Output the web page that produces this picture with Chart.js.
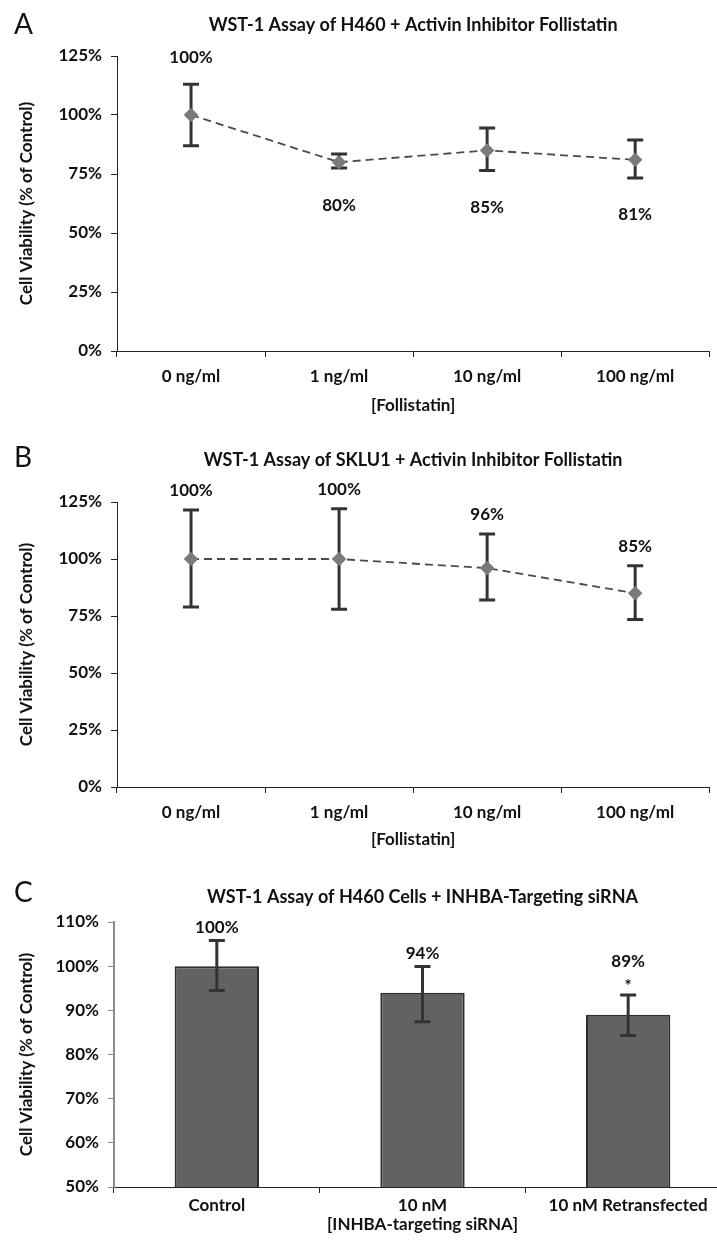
<!DOCTYPE html>
<html>
<head>
<meta charset="utf-8">
<script src="https://cdn.jsdelivr.net/npm/chart.js@4.4.1/dist/chart.umd.min.js"></script>
<style>
  html, body { margin: 0; padding: 0; background: #fff; }
  body { width: 717px; height: 1243px; position: relative; overflow: hidden; }
  .panel { position: absolute; left: 0; width: 717px; }
  .letter { position: absolute; left: 14px; font: 28px Lato, sans-serif; color: #111; line-height: 1; }
</style>
</head>
<body>
<div class="panel" style="top:0;height:420px"><canvas id="chartA"></canvas></div>
<div class="panel" style="top:420px;height:435px"><canvas id="chartB"></canvas></div>
<div class="panel" style="top:855px;height:388px;width:740px"><canvas id="chartC"></canvas></div>
<div class="letter" style="top:9px">A</div>
<div class="letter" style="top:442px">B</div>
<div class="letter" style="top:877px">C</div>
<script>
// Panel A / B: follistatin dose series
const doseLabels = ['0 ng/ml', '1 ng/ml', '10 ng/ml', '100 ng/ml'];
const h460Mean = [100, 80, 85, 81];
const h460Low = [87, 77.5, 76.5, 73.3];
const h460High = [113, 83.5, 94.5, 89.4];
const sklu1Mean = [100, 100, 96, 85];
const sklu1Low = [79, 78, 82, 73.5];
const sklu1High = [121.5, 122, 111, 97];

// Panel C: siRNA bars
const sirnaLabels = ['Control', '10 nM', '10 nM Retransfected'];
const sirnaMean = [100, 94, 89];
const sirnaLow = [94.5, 87.4, 84.3];
const sirnaHigh = [105.8, 99.9, 93.5];
const sirnaMarks = ['', '', '*'];

// Tick values
const pctTicksAB = [0, 25, 50, 75, 100, 125];
const pctTicksC = [50, 60, 70, 80, 90, 100, 110];

const FONT = 'Lato, "Open Sans", sans-serif';
const boldFont = { family: FONT, size: 17, weight: 'bold' };
const headFont = { family: FONT, size: 18, weight: 'bold' };
const INK = '#111';

// Error bars drawn through the chart's own scales
function drawErrorBars(chart, low, high) {
    const ctx = chart.ctx;
    const xs = chart.scales.x, ys = chart.scales.y;
    ctx.save();
    ctx.strokeStyle = '#333';
    ctx.lineWidth = 3;
    low.forEach((lo, i) => {
        const px = xs.getPixelForValue(i);
        const top = ys.getPixelForValue(high[i]);
        const bot = ys.getPixelForValue(lo);
        ctx.beginPath();
        ctx.moveTo(px, top); ctx.lineTo(px, bot);
        ctx.moveTo(px - 8, top); ctx.lineTo(px + 8, top);
        ctx.moveTo(px - 8, bot); ctx.lineTo(px + 8, bot);
        ctx.stroke();
    });
    ctx.restore();
}

// Value labels above or below the error bars
function drawValueLabels(chart, mean, low, high, place, gaps, marks) {
    const ctx = chart.ctx;
    const xs = chart.scales.x, ys = chart.scales.y;
    ctx.save();
    ctx.font = 'bold 17px ' + FONT;
    ctx.fillStyle = INK;
    ctx.textAlign = 'center';
    ctx.textBaseline = 'middle';
    mean.forEach((v, i) => {
        const px = xs.getPixelForValue(i);
        if (place[i] === 'below') {
            ctx.fillText(v + '%', px, ys.getPixelForValue(low[i]) + gaps.below);
            return;
        }
        let py = ys.getPixelForValue(high[i]) - gaps.above;
        if (marks && marks[i]) {
            ctx.fillText(marks[i], px, ys.getPixelForValue(high[i]) - 8);
            py -= 20;
        }
        ctx.fillText(v + '%', px, py);
    });
    ctx.restore();
}

function yScale(ticks, axisColor, axisWidth, width) {
    return {
        min: ticks[0],
        max: ticks[ticks.length - 1],
        afterBuildTicks: s => { s.ticks = ticks.map(v => ({ value: v })); },
        ticks: { callback: v => v + '%', font: boldFont, color: INK, padding: 9, autoSkip: false },
        grid: { drawOnChartArea: false, tickLength: 6, color: axisColor, lineWidth: 1 },
        border: { color: axisColor, width: axisWidth },
        title: { display: true, text: 'Cell Viability (% of Control)', font: boldFont, color: INK, padding: { top: 16.8, bottom: 0 } },
        afterFit: s => { s.width = width; }
    };
}

function xScale(titleText, height, tickPad, titlePadBottom) {
    return {
        type: 'category',
        offset: true,
        ticks: { font: boldFont, color: INK, padding: tickPad, maxRotation: 0, autoSkip: false },
        grid: { offset: true, drawOnChartArea: false, tickLength: 6, color: '#222' },
        border: { color: '#222', width: 1 },
        title: { display: true, text: titleText, font: boldFont, color: INK, padding: { top: 0, bottom: titlePadBottom } },
        afterFit: s => { s.height = height; }
    };
}

function titleOpts(text, padTop, padBottom) {
    return {
        display: true, fullSize: false, text: text, font: headFont, color: INK,
        padding: { top: padTop, bottom: padBottom }
    };
}

function buildDoseChart(id, title, mean, low, high, place, gaps, lay) {
    new Chart(document.getElementById(id), {
        type: 'line',
        data: {
            labels: doseLabels,
            datasets: [{
                data: mean,
                borderColor: '#4a4a4a',
                borderWidth: 1.8,
                borderDash: [8, 5],
                tension: 0,
                fill: false,
                pointStyle: 'rectRot',
                pointRadius: 6,
                pointBackgroundColor: '#7a7a7a',
                pointBorderColor: '#7a7a7a'
            }]
        },
        options: {
            responsive: true,
            maintainAspectRatio: false,
            animation: false,
            layout: { padding: { left: 0, right: 5, top: 0, bottom: 0 } },
            plugins: {
                legend: { display: false },
                tooltip: { enabled: false },
                title: titleOpts(title, lay.titleTop, lay.titleBottom)
            },
            scales: {
                x: xScale('[Follistatin]', lay.xHeight, 9.8, lay.xTitlePad),
                y: yScale(pctTicksAB, '#222', 1, 117)
            }
        },
        plugins: [{
            id: 'bars-' + id,
            beforeDatasetsDraw: chart => drawErrorBars(chart, low, high),
            afterDatasetsDraw: chart => drawValueLabels(chart, mean, low, high, place, gaps)
        }]
    });
}

// Panel A
buildDoseChart('chartA', 'WST-1 Assay of H460 + Activin Inhibitor Follistatin',
    h460Mean, h460Low, h460High,
    ['above', 'below', 'below', 'below'], { above: 27, below: 37 },
    { titleTop: 14.2, titleBottom: 20.2, xHeight: 69, xTitlePad: 3.8 });

// Panel B
buildDoseChart('chartB', 'WST-1 Assay of SKLU1 + Activin Inhibitor Follistatin',
    sklu1Mean, sklu1Low, sklu1High,
    ['above', 'above', 'above', 'above'], { above: 19, below: 0 },
    { titleTop: 29.2, titleBottom: 31.2, xHeight: 68, xTitlePad: 4.8 });

// Panel C
new Chart(document.getElementById('chartC'), {
    type: 'bar',
    data: {
        labels: sirnaLabels,
        datasets: [{
            data: sirnaMean,
            backgroundColor: '#626262',
            borderColor: '#2e2e2e',
            borderWidth: 2,
            categoryPercentage: 1,
            barPercentage: 0.41
        }]
    },
    options: {
        responsive: true,
        maintainAspectRatio: false,
        animation: false,
        layout: { padding: { left: 0, right: 9, top: 0, bottom: 0 } },
        plugins: {
            legend: { display: false },
            tooltip: { enabled: false },
            title: titleOpts('WST-1 Assay of H460 Cells + INHBA-Targeting siRNA', 31.2, 14.2)
        },
        scales: {
            x: xScale('[INHBA-targeting siRNA]', 56, 2, 7.8),
            y: yScale(pctTicksC, '#8a8a8a', 2, 114)
        }
    },
    plugins: [{
        id: 'bars-C',
        afterDatasetsDraw: chart => {
            drawErrorBars(chart, sirnaLow, sirnaHigh);
            drawValueLabels(chart, sirnaMean, sirnaLow, sirnaHigh,
                ['above', 'above', 'above'], { above: 13, below: 0 }, sirnaMarks);
        }
    }]
});
</script>
</body>
</html>
